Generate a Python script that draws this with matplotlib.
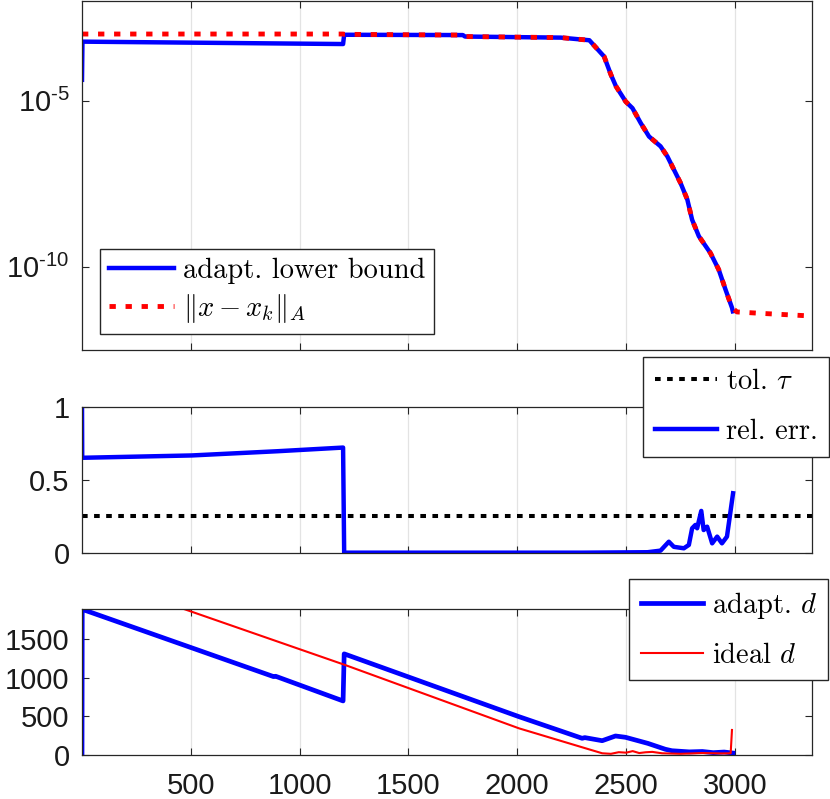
import matplotlib
matplotlib.use('Agg')
import matplotlib.pyplot as plt
from matplotlib.font_manager import FontProperties
from matplotlib.ticker import NullLocator, NullFormatter

plt.rcParams['font.family'] = ['Liberation Sans', 'DejaVu Sans']
plt.rcParams['mathtext.fontset'] = 'custom'
plt.rcParams['mathtext.rm'] = 'Liberation Sans'
plt.rcParams['mathtext.it'] = 'Liberation Sans:italic'
plt.rcParams['mathtext.bf'] = 'Liberation Sans:bold'

# --- top panel: error and adaptive lower bound (log scale)
bound_it = [1, 3, 1200, 1205, 1750, 1760, 2200, 2331, 2399, 2430, 2453, 2498, 2529, 2567,
            2605, 2658, 2689, 2750, 2781, 2803, 2834, 2887, 2925, 2956, 2986, 2990]
bound_val = [4.2e-5, 5.9e-4, 5.0e-4, 9.5e-4, 9.3e-4, 8.4e-4, 7.8e-4, 6.5e-4, 2.1e-4, 6.0e-5,
             2.7e-5, 9.3e-6, 5.9e-6, 2.1e-6, 8.3e-7, 4.2e-7, 2.1e-7, 3.3e-8, 1.05e-8, 2.6e-9,
             8.3e-10, 2.6e-10, 8.3e-11, 2.1e-11, 5.9e-12, 4.6e-12]
err_it = [1, 1200, 1205, 1750, 1760, 2200, 2331, 2399, 2430, 2453, 2498, 2529, 2567,
          2605, 2658, 2689, 2750, 2781, 2803, 2834, 2887, 2925, 2956, 2986, 3009, 3116, 3321, 3355]
err_val = [1.0e-3, 1.0e-3, 9.8e-4, 9.3e-4, 8.4e-4, 7.8e-4, 6.5e-4, 2.1e-4, 6.0e-5,
           2.7e-5, 9.3e-6, 5.9e-6, 2.1e-6, 8.3e-7, 4.2e-7, 2.1e-7, 3.3e-8, 1.05e-8, 2.6e-9,
           8.3e-10, 2.6e-10, 8.3e-11, 2.1e-11, 5.9e-12, 4.4e-12, 4.0e-12, 3.4e-12, 3.3e-12]
log_ticks = [1e-10, 1e-5]
log_labels = [r'$10^{\text{-}10}$', r'$10^{\text{-}5}$']

# --- middle panel: relative error and tolerance
tol = 0.25
rel_it = [1, 2, 505, 900, 1200, 1205, 2300, 2598, 2658, 2696, 2719, 2765, 2788, 2803, 2818,
          2826, 2845, 2856, 2872, 2895, 2918, 2940, 2963, 2991]
rel_val = [1.0, 0.65, 0.666, 0.695, 0.72, 0.0, 0.0, 0.003, 0.014, 0.075, 0.04, 0.03, 0.053,
           0.167, 0.19, 0.167, 0.286, 0.155, 0.178, 0.064, 0.11, 0.064, 0.11, 0.407]

# --- bottom panel: delay d
adapt_it = [1, 2, 881, 890, 1200, 1205, 2008, 2298, 2310, 2390, 2451, 2497, 2600, 2680,
            2710, 2790, 2850, 2900, 2950, 2990]
adapt_d = [0, 1887, 1015, 1020, 700, 1310, 496, 216, 225, 185, 246, 229, 150, 74,
           55, 40, 45, 30, 38, 25]
ideal_it = [473, 1209, 2008, 2313, 2390, 2430, 2466, 2500, 2530, 2560, 2589, 2620, 2665,
            2750, 2850, 2939, 2980, 2986]
ideal_d = [1887, 1166, 345, 87, 22, 15, 36, 30, 50, 25, 35, 40, 22, 15, 25, 20, 22, 324]

xticks = [500, 1000, 1500, 2000, 2500, 3000]
xlim = (1, 3355)

blue = '#0000ff'
red = '#ff0000'
dark = '#262626'
leg_font = FontProperties(family='cmr10', size=20.5, math_fontfamily='cm')

fig = plt.figure(figsize=(8.30, 7.99), dpi=100)
ax1 = fig.add_axes([0.0988, 0.5620, 0.8799, 0.4362])
ax2 = fig.add_axes([0.0988, 0.3083, 0.8799, 0.1827])
ax3 = fig.add_axes([0.0988, 0.0551, 0.8799, 0.1823])


def style(ax, xlabels):
    ax.set_xlim(*xlim)
    ax.set_xticks(xticks)
    if not xlabels:
        ax.set_xticklabels([])
    ax.grid(axis='x', color='#e3e3e3', linewidth=0.9)
    ax.set_axisbelow(True)
    ax.tick_params(direction='in', top=True, right=True, length=5, width=0.8,
                   color=dark, labelcolor='#1a1a1a', labelsize=21)
    ax.tick_params(axis='x', pad=12)
    ax.tick_params(axis='y', pad=9)
    for s in ax.spines.values():
        s.set_color(dark)
        s.set_linewidth(0.9)


ax1.semilogy(bound_it, bound_val, color=blue, lw=3.2, label='adapt. lower bound',
             solid_joinstyle='round')
ax1.semilogy(err_it, err_val, color=red, lw=3.5, linestyle=(0, (1.3, 2.0)),
             label=r'$\|x-x_k\|_A$')
ax1.set_ylim(10 ** -12.5, 10 ** -2.02)
ax1.set_yticks(log_ticks)
ax1.set_yticklabels(log_labels)
ax1.yaxis.set_minor_locator(NullLocator())
ax1.yaxis.set_minor_formatter(NullFormatter())
style(ax1, False)
ax1.legend(loc='lower left', bbox_to_anchor=(0.025, 0.046), borderaxespad=0,
           prop=leg_font, fancybox=False, edgecolor=dark, framealpha=1,
           handlelength=2.3, handletextpad=0.3, labelspacing=0.3, borderpad=0.3)

ax2.axhline(tol, color='black', lw=2.9, linestyle=(0, (1.4, 1.6)), label=r'tol. $\tau$')
ax2.plot(rel_it, rel_val, color=blue, lw=3.2, label='rel. err.', solid_joinstyle='round')
ax2.set_ylim(0, 1)
ax2.set_yticks([0, 0.5, 1])
ax2.set_yticklabels(['0', '0.5', '1'])
style(ax2, False)
ax2.legend(loc='upper right', bbox_to_anchor=(1.023, 1.34), borderaxespad=0,
           prop=leg_font, fancybox=False, edgecolor=dark, framealpha=1,
           handlelength=2.2, handletextpad=0.3, labelspacing=0.85, borderpad=0.4)

ax3.plot(adapt_it, adapt_d, color=blue, lw=3.4, label=r'adapt. $d$', solid_joinstyle='round')
ax3.plot(ideal_it, ideal_d, color=red, lw=1.5, label=r'ideal $d$')
ax3.set_ylim(0, 1887)
ax3.set_yticks([0, 500, 1000, 1500])
style(ax3, True)
ax3.legend(loc='upper right', bbox_to_anchor=(1.022, 1.208), borderaxespad=0,
           prop=leg_font, fancybox=False, edgecolor=dark, framealpha=1,
           handlelength=2.2, handletextpad=0.3, labelspacing=0.75, borderpad=0.4)

fig.savefig('out.png', dpi=100)
